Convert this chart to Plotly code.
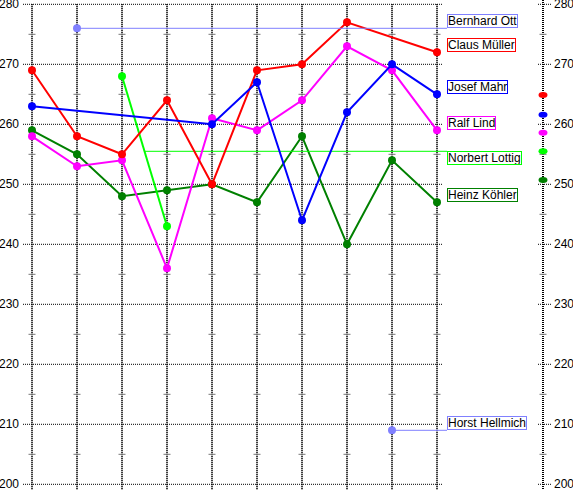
import plotly.graph_objects as go

ROUNDS = list(range(10))
Y_TICKS = [200, 210, 220, 230, 240, 250, 260, 270, 280]
Y_MINOR = [205, 215, 225, 235, 245, 255, 265, 275]

PLAYERS = ["Heinz Köhler", "Norbert Lottig", "Ralf Lind", "Claus Müller",
           "Josef Mahr", "Bernhard Ott", "Horst Hellmich"]
HEINZ = [259, 255, 248, 249, 250, 247, 258, 240, 254, 247]
NORBERT = [None, None, 268, 243, None, None, None, None, None, None]
RALF = [258, 253, 254, 236, 261, 259, 264, 273, 269, 259]
CLAUS = [269, 258, 255, 264, 250, 269, 270, 277, None, 272]
JOSEF = [263, None, None, None, 260, 267, 244, 262, 270, 265]
BERNHARD = [None, 276, None, None, None, None, None, None, None, None]
HORST = [None, None, None, None, None, None, None, None, 209, None]
SCORES = [HEINZ, NORBERT, RALF, CLAUS, JOSEF, BERNHARD, HORST]

COLORS = ["#008000", "#00FF00", "#FF00FF", "#FF0000", "#0000FF", "#8080FF", "#8080FF"]
# which players get an average line to their label / an average dot on the right axis
AVG_LINE = [False, True, False, False, False, True, True]
AVG_DOT = [True, True, True, True, True, False, False]
LABEL_SIDE = ["bottom", "top", "bottom", "bottom", "bottom", "bottom", "bottom"]

# pixel -> data helpers (plot fills the whole 573x490 page)
PX0, PXSTEP = 32, 45
PY0, PYSTEP = 4.3, 6


def xd(px):
    return (px - PX0) / PXSTEP


X_RANGE = [xd(0), xd(573)]
Y_RANGE = [280 - (490 - PY0) / PYSTEP, 280 + PY0 / PYSTEP]
X_LABEL = xd(447)
X_RIGHT = xd(543)
FONT = "Liberation Sans, Arial, sans-serif"
DOTTED = dict(color="black", width=1, dash="1px,1px")
VDOTTED = dict(color="black", width=2, dash="1px,1px")

fig = go.Figure()
shapes = []
annotations = []

# grid
for v in Y_TICKS:
    shapes.append(dict(type="line", xref="x", yref="y", x0=xd(23), x1=xd(443), y0=v, y1=v,
                       line=DOTTED, layer="below"))
    shapes.append(dict(type="line", xref="x", yref="y", x0=xd(538), x1=xd(551), y0=v, y1=v,
                       line=DOTTED, layer="below"))
    annotations.append(dict(x=xd(21), y=v, text=str(v), showarrow=False, xanchor="right",
                            yanchor="middle", font=dict(size=12, color="black", family=FONT)))
    annotations.append(dict(x=xd(552), y=v, text=str(v), showarrow=False, xanchor="left",
                            yanchor="middle", font=dict(size=12, color="black", family=FONT)))
for i in ROUNDS:
    shapes.append(dict(type="line", xref="x", yref="y", x0=i, x1=i, y0=280, y1=Y_RANGE[0],
                       line=VDOTTED, layer="below"))
shapes.append(dict(type="line", xref="x", yref="y", x0=X_RIGHT, x1=X_RIGHT, y0=Y_RANGE[1],
                   y1=Y_RANGE[0], line=VDOTTED, layer="below"))

mx, my = [], []
for i in ROUNDS + [X_RIGHT]:
    for v in Y_MINOR:
        mx.append(i)
        my.append(v)
fig.add_trace(go.Scatter(x=mx, y=my, mode="markers", hoverinfo="skip",
                         marker=dict(symbol="line-ew", size=5, line=dict(color="#777777", width=1))))

for name, vals, color, has_line, has_dot, side in zip(
        PLAYERS, SCORES, COLORS, AVG_LINE, AVG_DOT, LABEL_SIDE):
    played = [(i, v) for i, v in zip(ROUNDS, vals) if v is not None]
    avg = sum(v for _, v in played) / len(played)
    avg_x = sum(i for i, _ in played) / len(played)
    fig.add_trace(go.Scatter(x=ROUNDS, y=vals, mode="lines+markers", connectgaps=True,
                             line=dict(color=color, width=2), marker=dict(size=8, color=color),
                             cliponaxis=False, name=name))
    if has_line:
        fig.add_trace(go.Scatter(x=[avg_x, X_LABEL], y=[avg, avg], mode="lines",
                                 line=dict(color=color, width=1), hoverinfo="skip"))
        label_y = avg
    else:
        label_y = played[-1][1]
    if has_dot:
        shapes.append(dict(type="circle", xref="x", yref="y", xsizemode="pixel", ysizemode="pixel",
                           xanchor=X_RIGHT, yanchor=avg, x0=-4.5, x1=4.5, y0=-3, y1=3,
                           fillcolor=color, line=dict(color=color, width=0)))
    annotations.append(dict(x=X_LABEL, y=label_y, text=name, showarrow=False, xanchor="left",
                            yanchor=side, bgcolor="white", bordercolor=color, borderwidth=1,
                            borderpad=0, height=12,
                            font=dict(size=12, color="black", family=FONT)))

fig.update_layout(
    width=573,
    height=490,
    margin=dict(l=0, r=0, t=0, b=0),
    paper_bgcolor="white",
    plot_bgcolor="white",
    showlegend=False,
    xaxis=dict(range=X_RANGE, visible=False, fixedrange=True),
    yaxis=dict(range=Y_RANGE, visible=False, fixedrange=True),
    shapes=shapes,
    annotations=annotations,
)
# page body has a default 8px margin; drop it so the chart sits at the window corner
fig.write_html("out.html", config={"displayModeBar": False},
               post_script="document.body.style.margin='0';")
